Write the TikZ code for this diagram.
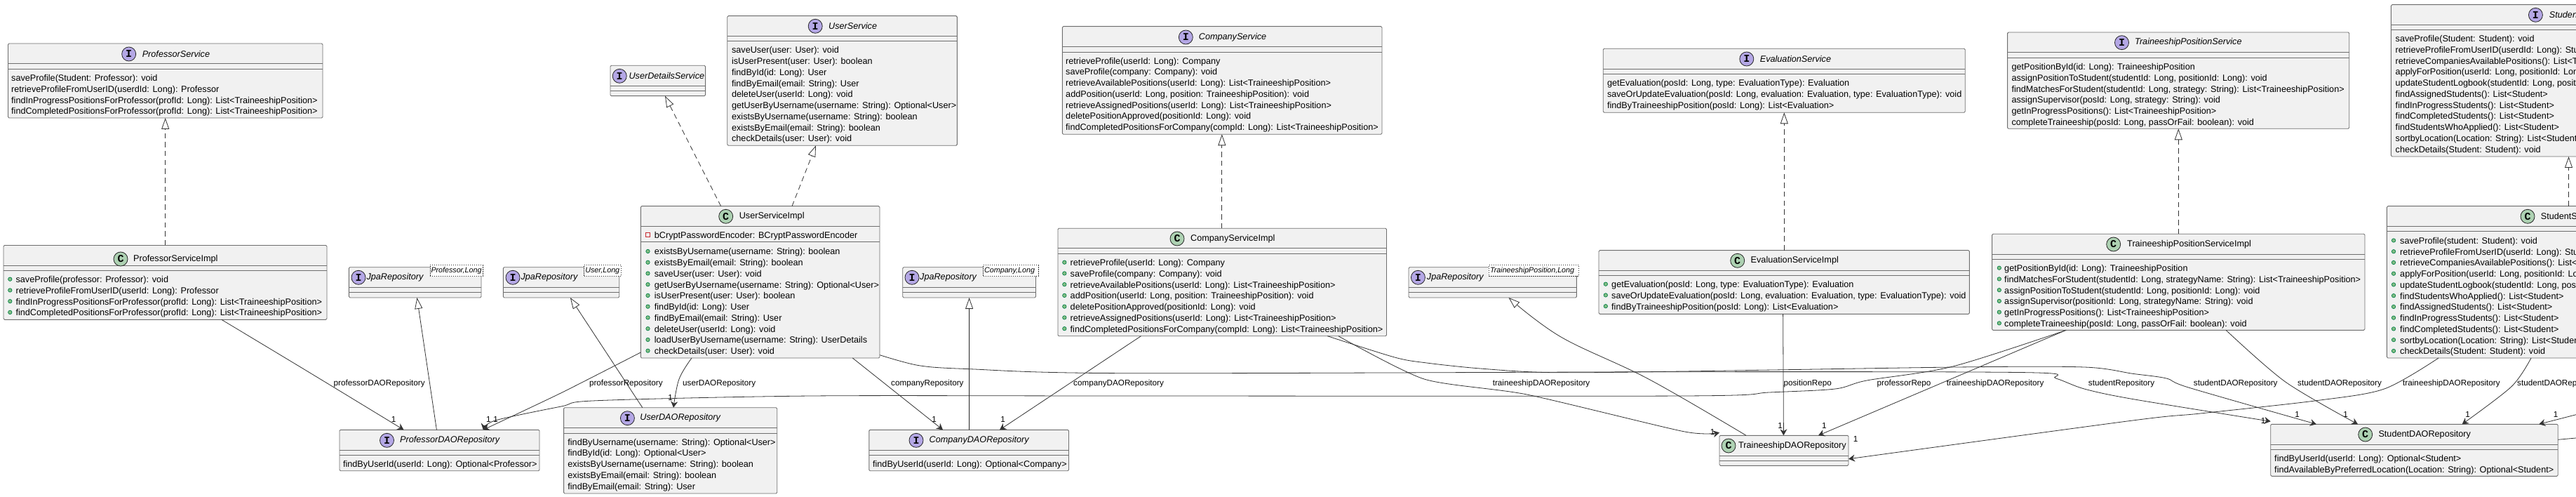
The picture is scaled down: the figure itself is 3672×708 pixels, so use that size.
\documentclass[tikz,border=0pt]{standalone}
\usepackage{fontspec}
\setmainfont{Liberation Sans}
\setmonofont{Liberation Mono}
\usetikzlibrary{arrows.meta, fit}
\definecolor{boxfill}{HTML}{F1F1F1}
\definecolor{boxline}{HTML}{6E6E6E}
\definecolor{markI}{HTML}{B4A7E5}
\definecolor{markC}{HTML}{ADD1B2}
\definecolor{dotfill}{HTML}{84BE84}
\definecolor{dotline}{HTML}{038048}
\definecolor{privline}{HTML}{C82930}
\tikzset{
  umlrect/.style = {draw=boxline, fill=boxfill, line width=.9pt, rounded corners=1.5pt,
                    inner sep=0pt, outer sep=0pt},
  sepline/.style = {draw=boxline, line width=.9pt},
     disc/.style = {circle, draw=black!85, line width=.8pt, minimum size=20pt, inner sep=0pt,
                    font=\fontsize{15}{15}\selectfont\ttfamily\bfseries},
  classname/.style = {anchor=west, inner sep=0pt, font=\fontsize{12.65}{15}\selectfont},
  ifacename/.style = {classname, font=\fontsize{12.65}{15}\selectfont\itshape},
  rows/.style = {anchor=north west, inner sep=0pt, align=left,
                 font=\fontsize{12.65}{15.74}\selectfont},
  tmpl/.style = {draw=black!80, dash pattern=on 1.5pt off 1.5pt, line width=.6pt, fill=white,
                 inner sep=0pt, outer sep=0pt},
  tmpltext/.style = {anchor=west, inner sep=0pt, font=\fontsize{10.7}{13}\selectfont\itshape},
  pubdot/.style = {draw=dotline, fill=dotfill, line width=.7pt},
  assoc/.style = {draw=black!80, line width=.8pt, -{Stealth[length=9pt, width=10pt, inset=3pt]}},
  isa/.style = {draw=black!80, line width=.8pt, -{Triangle[open, length=16pt, width=11pt, fill=white]}},
  impl/.style = {isa, dash pattern=on 7.5pt off 5.2pt},
  linklabel/.style = {anchor=west, inner sep=0pt, font=\fontsize{11.7}{14}\selectfont},
  mult/.style = {inner sep=0pt, font=\fontsize{11.7}{14}\selectfont}
}
% box: id, x1, y1, x2, y2, first and second separator
\newcommand{\umlbox}[7]{
  \node (#1) [umlrect, fit={(#2,#3) (#4,#5)}] {};
  \draw[sepline] (#2,#6) -- (#4,#6) (#2,#7) -- (#4,#7);
}
% head: id, mark x, y, text x, text
\newcommand{\ifacehead}[5]{
  \node (#1-mark) [disc, fill=markI] at (#2,#3) {I};
  \node (#1-name) [ifacename] at (#4,#3) {#5};
}
\newcommand{\classhead}[5]{
  \node (#1-mark) [disc, fill=markC] at (#2,#3) {C};
  \node (#1-name) [classname] at (#4,#3) {#5};
}
% members: id, x, centre of first row, rows
\newcommand{\umlrows}[4]{
  \node (#1-rows) [rows] at (#2,#3-6.3) {\strut #4};
}
% public dots: x, centre of first row, last row number
\newcommand{\umldots}[3]{
  \foreach \r in {0,...,#3} \draw[pubdot] (#1,#2+\r*15.74) circle (2.7);
}
% generic repository: id, x1, x2, mark x, name x, tmpl x1, tmpl x2, tmpl text
\newcommand{\jpabox}[8]{
  \umlbox{#1}{#2}{380.7}{#3}{424}{409.3}{416.3}
  \ifacehead{#1}{#4}{395.3}{#5}{JpaRepository}
  \node (#1-tmpl) [tmpl, fit={(#6,377.7) (#7,393.3)}] {};
  \node (#1-targs) [tmpltext] at (#6+1.5,385.5) {#8};
}
\begin{document}
\begin{tikzpicture}[x=1pt, y=-1pt]
\useasboundingbox (0,0) rectangle (3672,708);
\clip (0,0) rectangle (3672,708);

% services
\umlbox{profsvc}{11.5}{62}{460}{168}{90.7}{98}
\ifacehead{profsvc}{183.7}{77}{202.6}{ProfessorService}
\umlrows{profsvc}{16}{110.7}{saveProfile(Student: Professor): void\\
retrieveProfileFromUserID(userdId: Long): Professor\\
findInProgressPositionsForProfessor(profId: Long): List<TraineeshipPosition>\\
findCompletedPositionsForProfessor(profId: Long): List<TraineeshipPosition>}

\umlbox{profimpl}{5}{349.5}{466}{455.3}{378}{385.3}
\classhead{profimpl}{172}{369}{190}{ProfessorServiceImpl}
\umldots{14.3}{397.7}{3}
\umlrows{profimpl}{22.4}{397.7}{saveProfile(professor: Professor): void\\
retrieveProfileFromUserID(userId: Long): Professor\\
findInProgressPositionsForProfessor(profId: Long): List<TraineeshipPosition>\\
findCompletedPositionsForProfessor(profId: Long): List<TraineeshipPosition>}

\umlbox{uds}{870}{93.3}{1005.6}{136.7}{122.3}{129.3}
\ifacehead{uds}{883.2}{108.3}{896.4}{UserDetailsService}

\umlbox{usersvc}{1036.7}{22.7}{1364.3}{207.3}{51.7}{58.7}
\ifacehead{usersvc}{1162.2}{37.3}{1181}{UserService}
\umlrows{usersvc}{1042.9}{71}{saveUser(user: User): void\\
isUserPresent(user: User): boolean\\
findById(id: Long): User\\
findByEmail(email: String): User\\
deleteUser(userId: Long): void\\
getUserByUsername(username: String): Optional<User>\\
existsByUsername(username: String): boolean\\
existsByEmail(email: String): boolean\\
checkDetails(user: User): void}

\umlbox{userimpl}{913.3}{293.7}{1254}{510}{322.3}{344.3}
\classhead{userimpl}{1034.7}{308.3}{1053.6}{UserServiceImpl}
\draw[draw=privline, line width=.8pt] (920.8,331.8) rectangle (926.2,337.2);
\umlrows{userattr}{932.7}{334.7}{bCryptPasswordEncoder: BCryptPasswordEncoder}
\umldots{923.5}{358}{9}
\umlrows{userimpl}{932.7}{358}{existsByUsername(username: String): boolean\\
existsByEmail(email: String): boolean\\
saveUser(user: User): void\\
getUserByUsername(username: String): Optional<User>\\
isUserPresent(user: User): boolean\\
findById(id: Long): User\\
findByEmail(email: String): User\\
deleteUser(userId: Long): void\\
loadUserByUsername(username: String): UserDetails\\
checkDetails(user: User): void}

\umlbox{compsvc}{1514.3}{37.7}{1970}{191.3}{66.7}{74}
\ifacehead{compsvc}{1690.3}{53}{1708.7}{CompanyService}
\umlrows{compsvc}{1519}{86.3}{retrieveProfile(userId: Long): Company\\
saveProfile(company: Company): void\\
retrieveAvailablePositions(userId: Long): List<TraineeshipPosition>\\
addPosition(userId: Long, position: TraineeshipPosition): void\\
retrieveAssignedPositions(userId: Long): List<TraineeshipPosition>\\
deletePositionApproved(positionId: Long): void\\
findCompletedPositionsForCompany(compId: Long): List<TraineeshipPosition>}

\umlbox{compimpl}{1508}{325.3}{1976.5}{478.7}{353.3}{361}
\classhead{compimpl}{1678}{340}{1697}{CompanyServiceImpl}
\umldots{1517.3}{373.7}{6}
\umlrows{compimpl}{1525.5}{373.7}{retrieveProfile(userId: Long): Company\\
saveProfile(company: Company): void\\
retrieveAvailablePositions(userId: Long): List<TraineeshipPosition>\\
addPosition(userId: Long, position: TraineeshipPosition): void\\
deletePositionApproved(positionId: Long): void\\
retrieveAssignedPositions(userId: Long): List<TraineeshipPosition>\\
findCompletedPositionsForCompany(compId: Long): List<TraineeshipPosition>}

\umlbox{evalsvc}{2285.2}{69.3}{2801.2}{160.3}{98.3}{105.3}
\ifacehead{evalsvc}{2489.8}{84}{2508.6}{EvaluationService}
\umlrows{evalsvc}{2290.8}{117.7}{getEvaluation(posId: Long, type: EvaluationType): Evaluation\\
saveOrUpdateEvaluation(posId: Long, evaluation: Evaluation, type: EvaluationType): void\\
findByTraineeshipPosition(posId: Long): List<Evaluation>}

\umlbox{evalimpl}{2279}{356.7}{2807.3}{447.3}{385.7}{392.7}
\classhead{evalimpl}{2476.7}{371.3}{2495.5}{EvaluationServiceImpl}
\umldots{2288.8}{404.7}{2}
\umlrows{evalimpl}{2297}{404.7}{getEvaluation(posId: Long, type: EvaluationType): Evaluation\\
saveOrUpdateEvaluation(posId: Long, evaluation: Evaluation, type: EvaluationType): void\\
findByTraineeshipPosition(posId: Long): List<Evaluation>}

\umlbox{possvc}{2861.6}{46}{3348.7}{183.3}{74.7}{82}
\ifacehead{possvc}{3024.5}{60.7}{3043}{TraineeshipPositionService}
\umlrows{possvc}{2867.3}{94.7}{getPositionById(id: Long): TraineeshipPosition\\
assignPositionToStudent(studentId: Long, positionId: Long): void\\
findMatchesForStudent(studentId: Long, strategy: String): List<TraineeshipPosition>\\
assignSupervisor(posId: Long, strategy: String): void\\
getInProgressPositions(): List<TraineeshipPosition>\\
completeTraineeship(posId: Long, passOrFail: boolean): void}

\umlbox{posimpl}{2839.6}{333.3}{3371}{470.3}{362}{369.3}
\classhead{posimpl}{3012.7}{348}{3032}{TraineeshipPositionServiceImpl}
\umldots{2849.8}{381.7}{5}
\umlrows{posimpl}{2857}{381.7}{getPositionById(id: Long): TraineeshipPosition\\
findMatchesForStudent(studentId: Long, strategyName: String): List<TraineeshipPosition>\\
assignPositionToStudent(studentId: Long, positionId: Long): void\\
assignSupervisor(positionId: Long, strategyName: String): void\\
getInProgressPositions(): List<TraineeshipPosition>\\
completeTraineeship(posId: Long, passOrFail: boolean): void}

\umlbox{studsvc}{3408.4}{6.7}{3700}{223}{35.3}{42.3}
\ifacehead{studsvc}{3614.4}{21.3}{3633.7}{Studen}
\umlrows{studsvc}{3414.5}{54.7}{saveProfile(Student: Student): void\\
retrieveProfileFromUserID(userdId: Long): Stu\\
retrieveCompaniesAvailablePositions(): List<T\\
applyForPosition(userId: Long, positionId: Lon\\
updateStudentLogbook(studentId: Long, posit\\
findAssignedStudents(): List<Student>\\
findInProgressStudents(): List<Student>\\
findCompletedStudents(): List<Student>\\
findStudentsWhoApplied(): List<Student>\\
sortbyLocation(Location: String): List<Student\\
checkDetails(Student: Student): void}

\umlbox{studimpl}{3402.4}{293.7}{3700}{510}{322.3}{329.3}
\classhead{studimpl}{3603}{308.3}{3621.6}{StudentS}
\umldots{3412}{342.5}{10}
\umlrows{studimpl}{3421}{342.5}{saveProfile(student: Student): void\\
retrieveProfileFromUserID(userId: Long): Stu\\
retrieveCompaniesAvailablePositions(): List<\\
applyForPosition(userId: Long, positionId: Lo\\
updateStudentLogbook(studentId: Long, pos\\
findStudentsWhoApplied(): List<Student>\\
findAssignedStudents(): List<Student>\\
findInProgressStudents(): List<Student>\\
findCompletedStudents(): List<Student>\\
sortbyLocation(Location: String): List<Studen\\
checkDetails(Student: Student): void}

% repositories
\jpabox{jpaprof}{497.4}{686}{511}{522.4}{612.8}{688.3}{Professor,Long}
\jpabox{jpauser}{717.3}{882.7}{731}{742.3}{832.7}{885.7}{User,Long}
\jpabox{jpacomp}{1286.7}{1476.5}{1300}{1311}{1401.5}{1480}{Company,Long}
\jpabox{jpapos}{2008}{2247.4}{2021.4}{2033.7}{2122.4}{2250.5}{TraineeshipPosition,Long}

\umlbox{profdao}{484}{612.3}{769}{670.7}{641.3}{648.3}
\ifacehead{profdao}{551.5}{627.3}{570}{ProfessorDAORepository}
\umlrows{profdao}{488.8}{660.7}{findByUserId(userId: Long): Optional<Professor>}

\umlbox{userdao}{803.6}{580.7}{1107.7}{703}{609.7}{617}
\ifacehead{userdao}{894.4}{595.7}{912.2}{UserDAORepository}
\umlrows{userdao}{809.2}{629.3}{findByUsername(username: String): Optional<User>\\
findById(id: Long): Optional<User>\\
existsByUsername(username: String): boolean\\
existsByEmail(email: String): boolean\\
findByEmail(email: String): User}

\umlbox{compdao}{1238.8}{612.3}{1523.5}{670.7}{641.3}{648.3}
\ifacehead{compdao}{1306}{627.3}{1324.5}{CompanyDAORepository}
\umlrows{compdao}{1243.9}{660.7}{findByUserId(userId: Long): Optional<Company>}

\umlbox{posdao}{2451}{620.3}{2635}{663.3}{649.3}{656.3}
\classhead{posdao}{2464}{635}{2478}{TraineeshipDAORepository}

\umlbox{studdao}{3236.7}{604.3}{3646.2}{678.3}{633}{640.3}
\classhead{studdao}{3371.7}{619}{3390.3}{StudentDAORepository}
\umlrows{studdao}{3242}{652.7}{findByUserId(userId: Long): Optional<Student>\\
findAvailableByPreferredLocation(Location: String): Optional<Student>}

% implements
\draw[impl] ([xshift=230.7pt]profimpl.north west) -- ([xshift=224.2pt]profsvc.south west);
\draw[impl] ([xshift=114.3pt]userimpl.north west) -- ([xshift=78pt]uds.south west);
\draw[impl] ([xshift=215.7pt]userimpl.north west) -- ([xshift=126.3pt]usersvc.south west);
\draw[impl] ([xshift=233.8pt]compimpl.north west) -- ([xshift=227.5pt]compsvc.south west);
\draw[impl] ([xshift=264.3pt]evalimpl.north west) -- ([xshift=258.1pt]evalsvc.south west);
\draw[impl] ([xshift=265.7pt]posimpl.north west) -- ([xshift=243.7pt]possvc.south west);
\draw[impl] ([xshift=259.1pt]studimpl.north west) -- ([xshift=253.1pt]studsvc.south west);

% extends
\draw[isa] ([xshift=138.4pt]profdao.north west) -- ([xshift=97pt]jpaprof.south west);
\draw[isa] ([xshift=112.2pt]userdao.north west) -- ([xshift=95.5pt]jpauser.south west);
\draw[isa] ([xshift=142.8pt]compdao.north west) -- ([xshift=94.9pt]jpacomp.south west);
\draw[isa] plot[smooth, tension=.6] coordinates {([xshift=38pt]posdao.north west) (2350,540) (2225,480) ([xshift=142.5pt]jpapos.south west)};
\coordinate (offscreen1) at (3672,624);
\draw[draw=black!80, line width=.8pt] ([yshift=-22pt]studdao.north east) -- (offscreen1);

% uses
\draw[assoc] plot[smooth, tension=.5] coordinates {([xshift=310.8pt]profimpl.south west) (440,530) ([xshift=91.5pt]profdao.north west)};
\draw[assoc] plot[smooth, tension=.4] coordinates {([yshift=8pt]userimpl.south west) (800,559.7) ([xshift=204.8pt]profdao.north west)};
\draw[assoc] plot[smooth, tension=.5] coordinates {([xshift=105.7pt]posimpl.south west) (2783.7,522) (2661,542) (2616,554) (2522,559) (2400,564) (1600,564) (1157,564) (851,570.7) (800,579) (706,599) ([xshift=204.8pt]profdao.north west)};
\draw[assoc] plot[smooth, tension=.6] coordinates {([xshift=72.7pt]userimpl.south west) (968,540) ([xshift=156.4pt]userdao.north west)};
\draw[assoc] ([xshift=302pt]userimpl.south west) -- ([xshift=105.2pt]compdao.north west);
\draw[assoc] ([xshift=118.5pt]compimpl.south west) -- ([xshift=186.2pt]compdao.north west);
\draw[assoc] plot[smooth, tension=.5] coordinates {([yshift=4.3pt]userimpl.south east) (1310,520.7) (1382,525.7) (1600,531.7) (2400,529.7) (2890,530.7) (2930.6,539) (2971,554) (3040,568.5) ([yshift=4pt]studdao.north west)};
\draw[assoc] plot[smooth, tension=.5] coordinates {([xshift=384.3pt]compimpl.south west) (1988,509) (2033.7,517) (2110,525) (2212,530.7) (2400,529) (2788,523) (2971,523) (3040,532.3) (3088,539) (3120.6,552.3) ([xshift=65.3pt]studdao.north west)};
\draw[assoc] plot[smooth, tension=.4] coordinates {([xshift=399.7pt]compimpl.south west) (2030,540) (2176.5,562) (2400,614.7) ([yshift=4pt]posdao.north west)};
\draw[assoc] ([xshift=262.6pt]evalimpl.south west) -- ([xshift=91.4pt]posdao.north west);
\draw[assoc] ([xshift=105.4pt]posimpl.south west) -- ([xshift=141pt]posdao.north west);
\draw[assoc] plot[smooth, tension=.5] coordinates {([xshift=333.4pt]posimpl.south west) (3257.7,544) ([xshift=124.3pt]studdao.north west)};
\draw[assoc] plot[smooth, tension=.5] coordinates {([xshift=73.6pt]studimpl.south west) (3398.7,554) (3302,570.7) (3136.7,589) (3040,599) ([yshift=-12pt]posdao.east)};
\draw[assoc] plot[smooth, tension=.5] coordinates {([xshift=205.6pt]studimpl.south west) (3580,550.7) ([xshift=272.9pt]studdao.north west)};
\coordinate (offscreen2) at (3672,590.7);
\draw[assoc] (offscreen2) -- ([xshift=382.5pt]studdao.north west);

% link labels
\node (l1) [linklabel] at (475.5,546.3) {professorDAORepository};
\node (l2) [linklabel] at (839.8,546.3) {professorRepository};
\node (l3) [linklabel] at (973,546.3) {userDAORepository};
\node (l4) [linklabel] at (1270,546.3) {companyRepository};
\node (l5) [linklabel] at (1530,546.3) {companyDAORepository};
\node (l6) [linklabel] at (2127.6,546.3) {traineeshipDAORepository};
\node (l7) [linklabel] at (2542.4,546.3) {positionRepo};
\node (l8) [linklabel] at (2675.5,546.3) {professorRepo};
\node (l9) [linklabel] at (2774.7,546.3) {traineeshipDAORepository};
\node (l10) [linklabel] at (2976.7,546.3) {studentRepository};
\node (l11) [linklabel] at (3126.7,546.3) {studentDAORepository};
\node (l12) [linklabel] at (3275,546.3) {studentDAORepository};
\node (l13) [linklabel] at (3425,546.3) {traineeshipDAORepository};
\node (l14) [linklabel] at (3588,546.3) {studentDAORep};

% multiplicities
\foreach \x/\y [count=\n] in {561/597.7, 696.4/597.7, 706.6/597.7, 955.6/566.3, 1331.6/597.7, 1429.6/597.7,
   2441/615.7, 2537.6/606.3, 2600.4/606.3, 2645/625.7, 3226/599, 3274.6/590.7, 3343.5/590.7, 3517.6/590.7, 3643/590.7}
  \node (one\n) [mult] at (\x,\y) {1};
\end{tikzpicture}
\end{document}
